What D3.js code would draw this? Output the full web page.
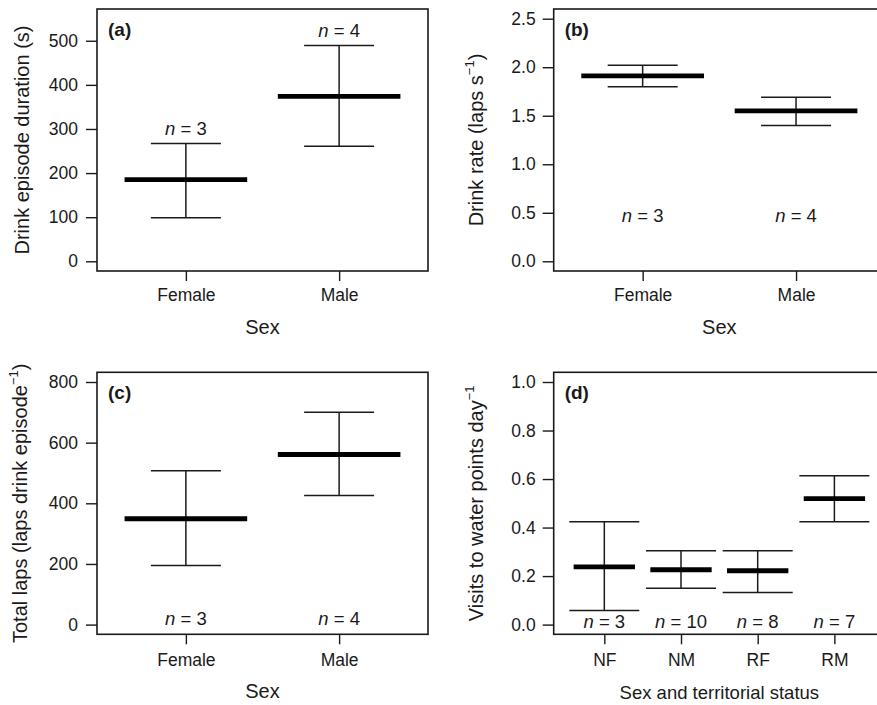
<!DOCTYPE html>
<html>
<head>
<meta charset="utf-8">
<script src="https://cdn.jsdelivr.net/npm/d3@7"></script>
<style>
body{margin:0;background:#fff;}
svg{display:block;font-family:"Liberation Sans",Arial,sans-serif;}
</style>
</head>
<body>
<svg id="chart"></svg>
<script>
// data

var sexCats=["Female","Male"];
var statusCats=["NF","NM","RF","RM"];

// (a) drink episode duration (s)
var durMean=[185,374];
var durUpper=[267,489];
var durLower=[99,261];
var durN=[3,4];
var durTicks=[0,100,200,300,400,500];

// (b) drink rate (laps s-1)
var rateMean=[1.91,1.55];
var rateUpper=[2.02,1.69];
var rateLower=[1.80,1.40];
var rateN=[3,4];
var rateTicks=[0,0.5,1,1.5,2,2.5];

// (c) total laps
var lapsMean=[349,561];
var lapsUpper=[507,700];
var lapsLower=[195,426];
var lapsN=[3,4];
var lapsTicks=[0,200,400,600,800];

// (d) visits to water points
var visitMean=[0.238,0.226,0.222,0.519];
var visitUpper=[0.424,0.304,0.304,0.614];
var visitLower=[0.058,0.150,0.132,0.424];
var visitN=[3,10,8,7];
var visitTicks=[0,0.2,0.4,0.6,0.8,1.0];

var svgWidth=877,svgHeight=705;
var ink="#1a1a1a";

var svg=d3.select("#chart")
    .attr("width",svgWidth)
    .attr("height",svgHeight);

function panel(p)
{
    var g=svg.append("g");

    // R style axis limits, 4% extension
    var ext=(p.ylim[1]-p.ylim[0])*0.04;
    var y=d3.scaleLinear()
        .domain([p.ylim[0]-ext,p.ylim[1]+ext])
        .range([p.y1,p.y0]);

    var x=d3.scalePoint()
        .domain(p.cats)
        .range([p.x0,p.x1])
        .padding(0.5+0.04*p.cats.length);
    var step=x.step();

    // box
    g.append("rect")
        .attr("x",p.x0).attr("y",p.y0)
        .attr("width",p.x1-p.x0).attr("height",p.y1-p.y0)
        .attr("fill","none").attr("stroke",ink).attr("stroke-width",1.6);

    // y axis
    var yAxis=d3.axisLeft(y)
        .tickValues(p.ticks)
        .tickSize(11)
        .tickPadding(p.yPad)
        .tickFormat(p.fmt);
    var ya=g.append("g")
        .attr("transform","translate("+p.x0+",0)")
        .call(yAxis)
        .attr("font-family",null).attr("font-size",null);
    ya.select(".domain").remove();
    ya.selectAll("line").attr("stroke",ink).attr("stroke-width",1.4);
    ya.selectAll("text").attr("fill",ink).attr("font-size",17.5);

    // x axis
    var xAxis=d3.axisBottom(x).tickSize(10).tickPadding(p.xPad);
    var xa=g.append("g")
        .attr("transform","translate(0,"+p.y1+")")
        .call(xAxis)
        .attr("font-family",null).attr("font-size",null);
    xa.select(".domain").remove();
    xa.selectAll("line").attr("stroke",ink).attr("stroke-width",1.4);
    xa.selectAll("text").attr("fill",ink).attr("font-size",17.5);

    var rows=p.cats.map(function(c,i)
    {
        return {cat:c,mean:p.mean[i],upper:p.upper[i],lower:p.lower[i],n:p.n[i]};
    });

    var bars=g.selectAll(".bar")
        .data(rows)
        .enter()
        .append("g");

    bars.append("line")
        .attr("x1",function(d){return x(d.cat);})
        .attr("x2",function(d){return x(d.cat);})
        .attr("y1",function(d){return y(d.lower);})
        .attr("y2",function(d){return y(d.upper);})
        .attr("stroke",ink).attr("stroke-width",1.5);

    ["upper","lower"].forEach(function(k)
    {
        bars.append("line")
            .attr("x1",function(d){return x(d.cat)-35;})
            .attr("x2",function(d){return x(d.cat)+35;})
            .attr("y1",function(d){return y(d[k]);})
            .attr("y2",function(d){return y(d[k]);})
            .attr("stroke",ink).attr("stroke-width",1.5);
    });

    bars.append("line")
        .attr("x1",function(d){return x(d.cat)-0.4*step;})
        .attr("x2",function(d){return x(d.cat)+0.4*step;})
        .attr("y1",function(d){return y(d.mean);})
        .attr("y2",function(d){return y(d.mean);})
        .attr("stroke","#000").attr("stroke-width",4.8);

    // n labels
    var nt=bars.append("text")
        .attr("x",function(d){return x(d.cat);})
        .attr("y",function(d)
        {
            return p.nAt==null ? y(d.upper)-9 : y(p.nAt);
        })
        .attr("text-anchor","middle")
        .attr("font-size",18.5)
        .attr("fill",ink);
    nt.append("tspan").attr("font-style","italic").text("n");
    nt.append("tspan").text(function(d){return " = "+d.n;});

    // panel letter
    g.append("text")
        .attr("x",p.x0+11).attr("y",p.y0+27)
        .attr("font-size",19).attr("font-weight","bold")
        .attr("fill",ink)
        .text(p.letter);

    // x title
    g.append("text")
        .attr("x",(p.x0+p.x1)/2)
        .attr("y",p.y1+p.xTitleOff)
        .attr("text-anchor","middle")
        .attr("font-size",p.xTitleSize)
        .attr("fill",ink)
        .text(p.xTitle);

    // y title, with a "-1" superscript where needed
    var yt=g.append("text")
        .attr("transform","translate("+p.yTitleX+","+((p.y0+p.y1)/2)+") rotate(-90)")
        .attr("text-anchor","middle")
        .attr("font-size",20)
        .attr("fill",ink);
    yt.append("tspan").text(p.yTitle[0]);
    if(p.yTitle.length>1)
    {
        yt.append("tspan").attr("dy",-9).attr("font-size",13).text("\u2212"+"1");
        yt.append("tspan").attr("dy",9).text(p.yTitle[1]);
    }
}

var fmtInt=d3.format("d"),fmt1=d3.format(".1f");

panel({cats:sexCats,mean:durMean,upper:durUpper,lower:durLower,n:durN,
    ylim:[0,550],ticks:durTicks,fmt:fmtInt,nAt:null,
    x0:97,x1:428,y0:9,y1:271,letter:"(a)",yPad:8,
    xTitle:"Sex",xTitleSize:20,xTitleOff:63,xPad:8,
    yTitle:["Drink episode duration (s)"],yTitleX:29});

panel({cats:sexCats,mean:rateMean,upper:rateUpper,lower:rateLower,n:rateN,
    ylim:[0,2.5],ticks:rateTicks,fmt:fmt1,nAt:0.4,
    x0:553.7,x1:885,y0:9,y1:271,letter:"(b)",yPad:7,
    xTitle:"Sex",xTitleSize:20,xTitleOff:63,xPad:8,
    yTitle:["Drink rate (laps s",")"],yTitleX:483});

panel({cats:sexCats,mean:lapsMean,upper:lapsUpper,lower:lapsLower,n:lapsN,
    ylim:[0,800],ticks:lapsTicks,fmt:fmtInt,nAt:-0.5,
    x0:97,x1:428,y0:372.3,y1:634.3,letter:"(c)",yPad:8,
    xTitle:"Sex",xTitleSize:20,xTitleOff:64,xPad:9,
    yTitle:["Total laps (laps drink episode",")"],yTitleX:27});

panel({cats:statusCats,mean:visitMean,upper:visitUpper,lower:visitLower,n:visitN,
    ylim:[0,1],ticks:visitTicks,fmt:fmt1,nAt:-0.012,
    x0:553.7,x1:885,y0:372.3,y1:634.3,letter:"(d)",yPad:7,
    xTitle:"Sex and territorial status",xTitleSize:18.5,xTitleOff:65,xPad:9,
    yTitle:["Visits to water points day",""],yTitleX:483});
</script>
</body>
</html>
